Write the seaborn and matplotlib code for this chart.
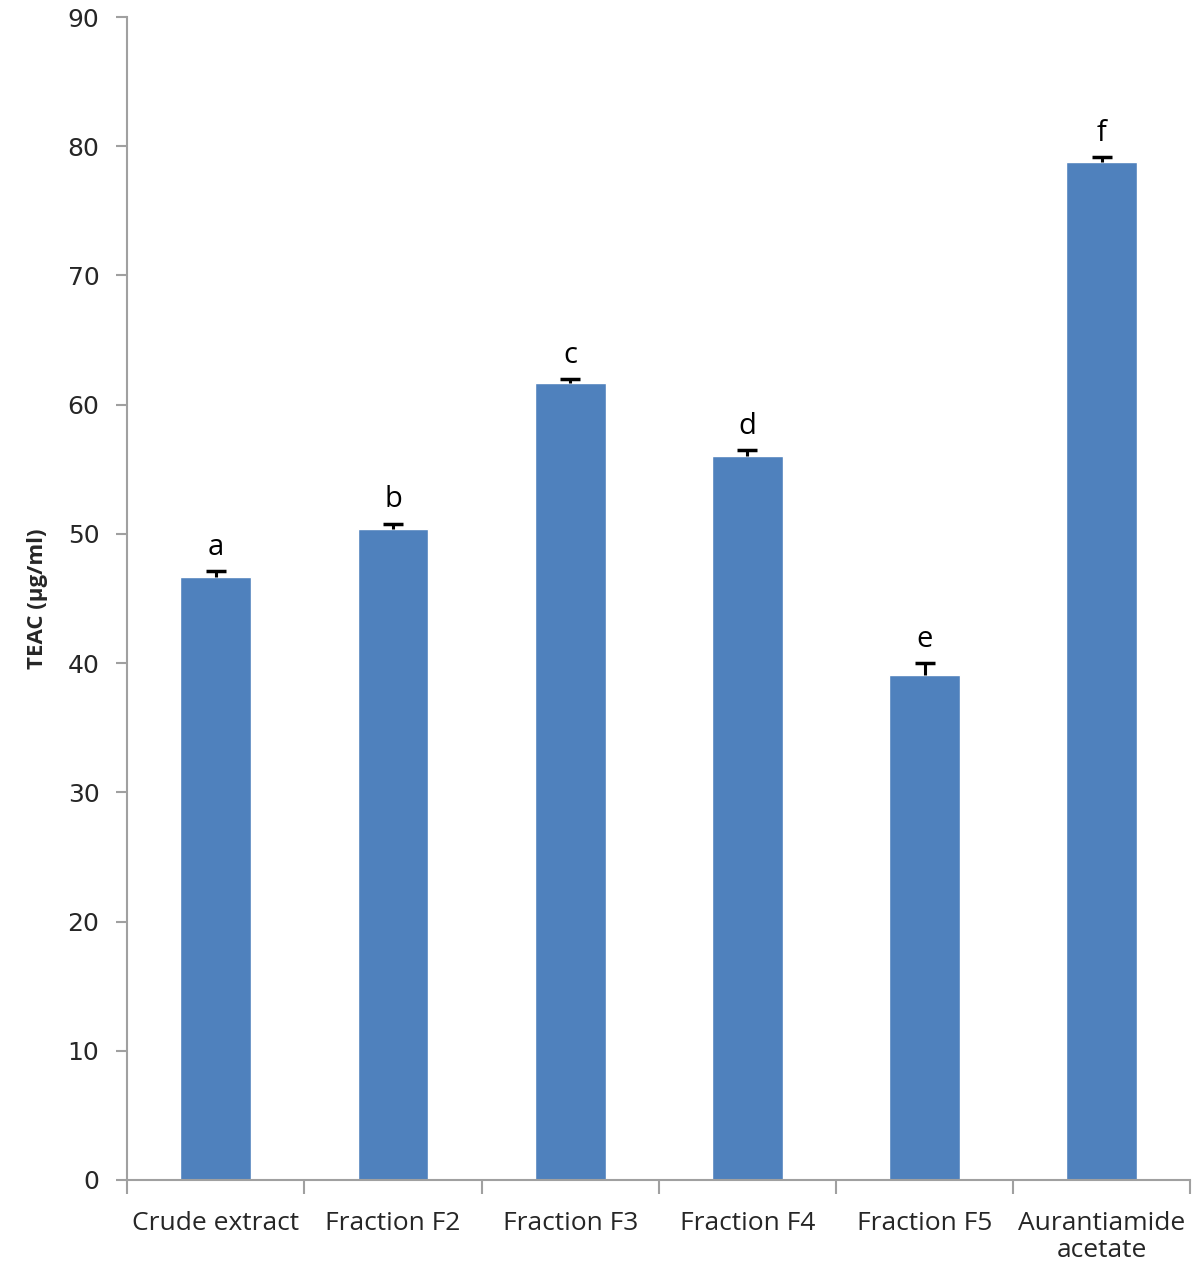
import matplotlib
matplotlib.use("Agg")
import matplotlib.pyplot as plt
import seaborn as sns
import pandas as pd
import numpy as np
from matplotlib.ticker import FixedLocator

categories = ["Crude extract", "Fraction F2", "Fraction F3", "Fraction F4", "Fraction F5", "Aurantiamide\nacetate"]
values = [46.7, 50.4, 61.7, 56.0, 39.1, 78.8]
errors = [0.4, 0.4, 0.3, 0.5, 0.9, 0.4]
letters = ["a", "b", "c", "d", "e", "f"]
yticks = [0, 10, 20, 30, 40, 50, 60, 70, 80, 90]

sns.set_style("white")
plt.rcParams['font.family'] = ['DejaVu Sans']

df = pd.DataFrame({"cat": categories, "val": values})

fig = plt.figure(figsize=(12, 12.7), dpi=100)
ax = fig.add_axes([0.106, 0.0709, 0.886, 0.9157])
sns.barplot(data=df, x="cat", y="val", color="#4F81BD", saturation=1, width=0.4, ax=ax, errorbar=None)

x = np.arange(len(categories))
eb = ax.errorbar(x, values, yerr=[np.zeros(len(values)), errors], fmt="none", ecolor="black",
                 elinewidth=2.2, capsize=7, capthick=2.5)
caps = eb[1]
if len(caps) == 2:
    caps[0].set_visible(False)
for xi, v, e, l in zip(x, values, errors, letters):
    ax.text(xi, v + e + 0.7, l, ha="center", va="bottom", fontsize=21, color="black", family="Open Sans")

ax.set_ylim(0, 90)
ax.set_xlim(-0.5, len(categories) - 0.5)
ax.set_yticks(yticks)
ax.set_yticklabels([str(t) for t in yticks], fontsize=18)
ax.tick_params(axis="y", direction="out", length=8, width=1.5, color="#A0A0A0", pad=12, left=True)
ax.set_xticks(x)
ax.set_xticklabels(categories, fontsize=19, family="Open Sans", linespacing=1.15)
ax.tick_params(axis="x", which="major", length=0, pad=22)
ax.xaxis.set_minor_locator(FixedLocator(np.arange(-0.5, len(categories), 1.0)))
ax.tick_params(axis="x", which="minor", direction="out", length=10, width=1.5, color="#A0A0A0", bottom=True)

ax.set_xlabel("")
ax.set_ylabel("TEAC (µg/ml)", fontsize=16, fontweight="bold", family="Open Sans", labelpad=14)

for s in ["top", "right"]:
    ax.spines[s].set_visible(False)
for s in ["left", "bottom"]:
    ax.spines[s].set_color("#A0A0A0")
    ax.spines[s].set_linewidth(1.5)

fig.savefig("out.png", dpi=100)
